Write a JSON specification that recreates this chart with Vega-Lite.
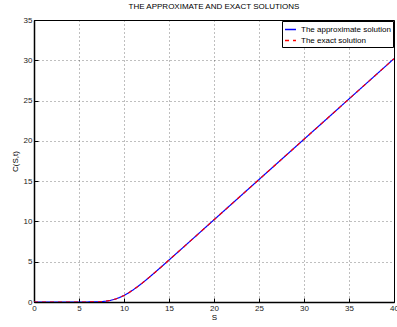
{
  "$schema": "https://vega.github.io/schema/vega-lite/v6.json",
  "width": 360,
  "height": 282,
  "autosize": {"type": "none"},
  "padding": {"left": 34, "top": 20, "right": 3, "bottom": 25},
  "background": "white",
  "title": {"text": "THE APPROXIMATE AND EXACT SOLUTIONS", "font": "Liberation Sans", "fontSize": 8, "fontWeight": "normal", "color": "#000", "offset": 5},
  "config": {
    "view": {"stroke": "#000", "strokeWidth": 1},
    "font": "Liberation Sans"
  },
  "data": {"values": [
    {"S": 0, "C": 0, "series": "The approximate solution"},
    {"S": 2, "C": 0, "series": "The approximate solution"},
    {"S": 4, "C": 0, "series": "The approximate solution"},
    {"S": 6, "C": 0.003, "series": "The approximate solution"},
    {"S": 6.5, "C": 0.007, "series": "The approximate solution"},
    {"S": 7, "C": 0.017, "series": "The approximate solution"},
    {"S": 7.5, "C": 0.047, "series": "The approximate solution"},
    {"S": 8, "C": 0.103, "series": "The approximate solution"},
    {"S": 8.5, "C": 0.2, "series": "The approximate solution"},
    {"S": 9, "C": 0.347, "series": "The approximate solution"},
    {"S": 9.5, "C": 0.552, "series": "The approximate solution"},
    {"S": 10, "C": 0.814, "series": "The approximate solution"},
    {"S": 10.5, "C": 1.13, "series": "The approximate solution"},
    {"S": 11, "C": 1.494, "series": "The approximate solution"},
    {"S": 11.5, "C": 1.896, "series": "The approximate solution"},
    {"S": 12, "C": 2.327, "series": "The approximate solution"},
    {"S": 12.5, "C": 2.78, "series": "The approximate solution"},
    {"S": 13, "C": 3.25, "series": "The approximate solution"},
    {"S": 13.5, "C": 3.731, "series": "The approximate solution"},
    {"S": 14, "C": 4.219, "series": "The approximate solution"},
    {"S": 14.5, "C": 4.71, "series": "The approximate solution"},
    {"S": 15, "C": 5.207, "series": "The approximate solution"},
    {"S": 16, "C": 6.202, "series": "The approximate solution"},
    {"S": 17, "C": 7.201, "series": "The approximate solution"},
    {"S": 18, "C": 8.2, "series": "The approximate solution"},
    {"S": 20, "C": 10.2, "series": "The approximate solution"},
    {"S": 25, "C": 15.2, "series": "The approximate solution"},
    {"S": 30, "C": 20.2, "series": "The approximate solution"},
    {"S": 35, "C": 25.2, "series": "The approximate solution"},
    {"S": 40, "C": 30.2, "series": "The approximate solution"},
    {"S": 0, "C": 0, "series": "The exact solution"},
    {"S": 2, "C": 0, "series": "The exact solution"},
    {"S": 4, "C": 0, "series": "The exact solution"},
    {"S": 6, "C": 0.003, "series": "The exact solution"},
    {"S": 6.5, "C": 0.007, "series": "The exact solution"},
    {"S": 7, "C": 0.017, "series": "The exact solution"},
    {"S": 7.5, "C": 0.047, "series": "The exact solution"},
    {"S": 8, "C": 0.103, "series": "The exact solution"},
    {"S": 8.5, "C": 0.2, "series": "The exact solution"},
    {"S": 9, "C": 0.347, "series": "The exact solution"},
    {"S": 9.5, "C": 0.552, "series": "The exact solution"},
    {"S": 10, "C": 0.814, "series": "The exact solution"},
    {"S": 10.5, "C": 1.13, "series": "The exact solution"},
    {"S": 11, "C": 1.494, "series": "The exact solution"},
    {"S": 11.5, "C": 1.896, "series": "The exact solution"},
    {"S": 12, "C": 2.327, "series": "The exact solution"},
    {"S": 12.5, "C": 2.78, "series": "The exact solution"},
    {"S": 13, "C": 3.25, "series": "The exact solution"},
    {"S": 13.5, "C": 3.731, "series": "The exact solution"},
    {"S": 14, "C": 4.219, "series": "The exact solution"},
    {"S": 14.5, "C": 4.71, "series": "The exact solution"},
    {"S": 15, "C": 5.207, "series": "The exact solution"},
    {"S": 16, "C": 6.202, "series": "The exact solution"},
    {"S": 17, "C": 7.201, "series": "The exact solution"},
    {"S": 18, "C": 8.2, "series": "The exact solution"},
    {"S": 20, "C": 10.2, "series": "The exact solution"},
    {"S": 25, "C": 15.2, "series": "The exact solution"},
    {"S": 30, "C": 20.2, "series": "The exact solution"},
    {"S": 35, "C": 25.2, "series": "The exact solution"},
    {"S": 40, "C": 30.2, "series": "The exact solution"}
  ]},
  "mark": {"type": "line", "strokeWidth": 1.2, "clip": true},
  "encoding": {
    "x": {"field": "S", "type": "quantitative",
      "scale": {"domain": [0, 40], "nice": false, "zero": false},
      "axis": {"title": "S", "values": [0,5,10,15,20,25,30,35,40], "grid": true, "gridColor": "#000", "gridDash": [1, 3], "gridOpacity": 0.5, "domainColor": "#000", "domainWidth": 1.5, "tickColor": "#000", "tickSize": -4, "labelFontSize": 8, "labelColor": "#222", "labelPadding": 6, "titleFontSize": 8, "titleFontWeight": "normal", "titleColor": "#000", "titlePadding": 1, "labelFlush": false}},
    "y": {"field": "C", "type": "quantitative",
      "scale": {"domain": [0, 35], "nice": false},
      "axis": {"title": "C(S,t)", "values": [0,5,10,15,20,25,30,35], "grid": true, "gridColor": "#000", "gridDash": [1, 3], "gridOpacity": 0.5, "domainColor": "#000", "domainWidth": 1.5, "tickColor": "#000", "tickSize": -4, "labelFontSize": 8, "labelColor": "#222", "labelPadding": 6, "titleFontSize": 8, "titleFontWeight": "normal", "titleColor": "#000", "titlePadding": 4}},
    "color": {"field": "series", "type": "nominal",
      "scale": {"domain": ["The approximate solution", "The exact solution"], "range": ["#0000ff", "#ff0000"]},
      "legend": {"title": null, "orient": "top-right", "offset": 1, "fillColor": "white", "strokeColor": "#000", "padding": 2, "labelFontSize": 8, "labelColor": "#000", "symbolType": "stroke", "symbolSize": 120, "symbolStrokeWidth": 1.5, "rowPadding": 0, "labelOffset": 4}},
    "strokeDash": {"field": "series", "type": "nominal",
      "scale": {"domain": ["The approximate solution", "The exact solution"], "range": [[1, 0], [4, 4]]},
      "legend": {"title": null, "orient": "top-right", "offset": 1, "fillColor": "white", "strokeColor": "#000", "padding": 2, "labelFontSize": 8, "labelColor": "#000", "symbolType": "stroke", "symbolSize": 120, "symbolStrokeWidth": 1.5, "rowPadding": 0, "labelOffset": 4}}
  }
}
